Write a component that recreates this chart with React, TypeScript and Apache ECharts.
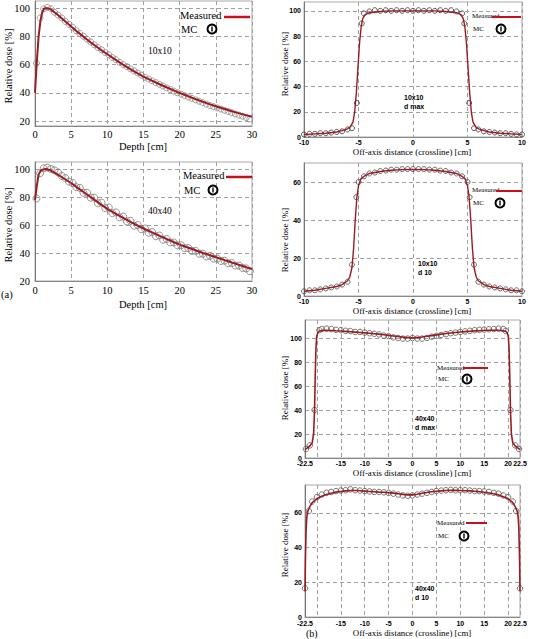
import React, { useEffect, useRef } from 'react';
import * as echarts from 'echarts';

// ---------- (a) depth dose, 10x10 ----------
const pdd10Depth = [0, 0.25, 0.5, 0.75, 1, 1.25, 1.5, 2, 2.5, 3, 4, 5, 6, 7, 8, 9, 10, 11, 12, 13, 14, 15, 16, 17, 18, 19, 20, 21, 22, 23, 24, 25, 26, 27, 28, 29, 30];
const pdd10Measured = [40, 62, 80, 91, 97, 99.5, 100, 99.5, 97.8, 95.8, 91.3, 87, 82.6, 78.5, 74.6, 70.8, 67.3, 63.8, 60.5, 57.3, 54.3, 51.5, 49, 46.6, 44.3, 42.1, 40, 37.9, 35.9, 34, 32.2, 30.5, 28.9, 27.3, 25.8, 24.4, 23];
const pddMcDepth = [0.2, 0.7, 1.2, 1.7, 2.2, 2.7, 3.2, 3.7, 4.2, 4.7, 5.2, 5.7, 6.2, 6.7, 7.2, 7.7, 8.2, 8.7, 9.2, 9.7, 10.2, 10.7, 11.2, 11.7, 12.2, 12.7, 13.2, 13.7, 14.2, 14.7, 15.2, 15.7, 16.2, 16.7, 17.2, 17.7, 18.2, 18.7, 19.2, 19.7, 20.2, 20.7, 21.2, 21.7, 22.2, 22.7, 23.2, 23.7, 24.2, 24.7, 25.2, 25.7, 26.2, 26.7, 27.2, 27.7, 28.2, 28.7, 29.2, 29.7];
const pdd10Mc = [61, 93, 99.5, 100.5, 99.5, 97, 95, 93, 90.5, 88.5, 86.5, 84, 82, 80, 78, 76, 74, 72, 70.5, 68.5, 67, 65, 63.5, 61.5, 60, 58.5, 57, 55.5, 54, 52.5, 51, 49.8, 48.5, 47.2, 46, 44.8, 43.5, 42.3, 41.2, 40, 39, 38, 37, 36, 35, 34, 33, 32, 31, 30.2, 29.3, 28.5, 27.6, 26.8, 25.9, 25, 24.2, 23.4, 22.5, 21.5];

// ---------- (a) depth dose, 40x40 ----------
const pdd40Depth = [0, 0.25, 0.5, 0.75, 1, 1.5, 2, 3, 4, 5, 6, 7, 8, 9, 10, 11, 12, 13, 14, 15, 16, 17, 18, 19, 20, 21, 22, 23, 24, 25, 26, 27, 28, 29, 30];
const pdd40Measured = [78, 88, 96, 98.5, 99.5, 100, 99.3, 96.5, 93.2, 90, 86.2, 82.5, 78.8, 75.1, 71.5, 68.5, 65.6, 62.8, 60.1, 57.5, 55.1, 52.8, 50.5, 48.2, 46, 44.1, 42.3, 40.4, 38.7, 37, 35.3, 33.6, 31.9, 30.2, 28.5];
const pdd40Mc = [79, 97, 100.5, 101, 100, 99, 97.5, 95, 93.5, 91, 90, 87, 86.5, 83, 83, 79.5, 79.5, 75.5, 76, 72, 72.5, 68.5, 69, 65.5, 66, 62.5, 63, 59.5, 60, 57, 57.5, 54.5, 55, 52, 52.5, 49.5, 50, 47.5, 47.5, 45.5, 45.5, 43.5, 43.5, 41.5, 41.5, 39.5, 39.5, 37.5, 38, 36, 36, 34.3, 34.5, 32.7, 32.8, 31, 31, 29.3, 29, 27];

// ---------- (b) profile 10x10, d max ----------
const prof10dmaxX = [-10, -9, -8, -7, -6.5, -6, -5.75, -5.5, -5.35, -5.2, -5.05, -4.9, -4.75, -4.6, -4.4, -4, -3, -2, -1, 0, 1, 2, 3, 4, 4.4, 4.6, 4.75, 4.9, 5.05, 5.2, 5.35, 5.5, 5.75, 6, 6.5, 7, 8, 9, 10];
const prof10dmaxMeasured = [2, 2.5, 3, 4, 5, 6.5, 8, 12, 20, 35, 55, 75, 88, 94, 97, 98.5, 99.5, 100, 100, 100, 100, 100, 99.5, 98.5, 97, 94, 88, 75, 55, 35, 20, 12, 8, 6.5, 5, 4, 3, 2.5, 2];
const prof10dmaxMcX = [-10, -9.5, -9, -8.5, -8, -7.5, -7, -6.5, -6, -5.6, -5.15, -4.7, -4.5, -4, -3.5, -3, -2.5, -2, -1.5, -1, -0.5, 0, 0.5, 1, 1.5, 2, 2.5, 3, 3.5, 4, 4.5, 4.7, 5.15, 5.6, 6, 6.5, 7, 7.5, 8, 8.5, 9, 9.5, 10];
const prof10dmaxMc = [2, 2.5, 2.5, 3, 3, 3.5, 4, 4.5, 6, 7, 27, 90, 98, 99.5, 100.5, 100, 100.5, 100, 100.5, 100, 100.5, 100, 100.5, 100, 100.5, 100, 100.5, 100, 100.5, 99.5, 98, 90, 27, 7, 6, 4.5, 4, 3.5, 3, 3, 2.5, 2, 2];

// ---------- (b) profile 10x10, d 10 ----------
const prof10d10X = [-10, -9, -8, -7, -6.5, -6, -5.8, -5.6, -5.45, -5.3, -5.15, -5, -4.8, -4.5, -4, -3, -2, -1, 0, 1, 2, 3, 4, 4.5, 4.8, 5, 5.15, 5.3, 5.45, 5.6, 5.8, 6, 6.5, 7, 8, 9, 10];
const prof10d10Measured = [2.5, 3, 4, 5, 6, 8, 10, 15, 25, 40, 52, 58, 61.5, 63, 64.5, 65.5, 66.2, 66.5, 66.6, 66.5, 66.2, 65.5, 64.5, 63, 61.5, 58, 52, 40, 25, 15, 10, 8, 6, 5, 4, 3, 2.5];
const prof10d10McX = [-10, -9.5, -9, -8.5, -8, -7.5, -7, -6.5, -6, -5.6, -5.2, -5, -4.5, -4, -3.5, -3, -2.5, -2, -1.5, -1, -0.5, 0, 0.5, 1, 1.5, 2, 2.5, 3, 3.5, 4, 4.5, 5, 5.2, 5.6, 6, 6.5, 7, 7.5, 8, 8.5, 9, 9.5, 10];
const prof10d10Mc = [2.5, 3, 3, 3.5, 4, 4.5, 5, 6, 7.5, 16.5, 52, 60, 63, 64.5, 65, 65.8, 66, 66.5, 66.5, 66.8, 66.8, 66.8, 66.8, 66.8, 66.5, 66.5, 66, 65.8, 65, 64.5, 63, 60, 52, 16.5, 7.5, 6, 5, 4.5, 4, 3.5, 3, 3, 2.5];

// ---------- (b) profile 40x40, d max ----------
const prof40dmaxX = [-22.5, -22, -21.5, -21, -20.7, -20.5, -20.35, -20.2, -20.05, -19.8, -19.5, -19, -18, -17, -16, -15, -14, -13, -12, -11, -10, -9, -8, -7, -6, -5, -4, -3, -2, -1, 0, 1, 2, 3, 4, 5, 6, 7, 8, 9, 10, 11, 12, 13, 14, 15, 16, 17, 18, 19, 19.5, 19.8, 20.05, 20.2, 20.35, 20.5, 20.7, 21, 21.5, 22, 22.5];
const prof40dmaxMeasured = [7, 8.5, 10, 12.5, 20, 40, 70, 92, 101.5, 104.5, 105.8, 106.3, 106.5, 106.3, 106, 105.8, 105.5, 105.2, 104.9, 104.6, 104.3, 104, 103.6, 103.2, 102.7, 102.2, 101.7, 101.2, 100.7, 100.3, 100.1, 100.3, 100.8, 101.4, 102, 102.6, 103.2, 103.7, 104.2, 104.6, 105, 105.3, 105.6, 105.9, 106.1, 106.3, 106.4, 106.5, 106.4, 106.1, 105.6, 104.5, 101.5, 92, 70, 40, 20, 12.5, 10, 8.5, 7];
const prof40dmaxMcX = [-22.3, -21.5, -20.5, -19.5, -19, -18, -17, -16, -15, -14, -13, -12, -11, -10, -9, -8, -7, -6, -5, -4, -3, -2, -1, 0, 1, 2, 3, 4, 5, 6, 7, 8, 9, 10, 11, 12, 13, 14, 15, 16, 17, 18, 19, 19.5, 20.5, 21.5, 22.3];
const prof40dmaxMc = [7.5, 10.5, 40, 106.5, 107.5, 107.8, 107.5, 106.8, 106.5, 106, 105.8, 105, 105, 104.5, 104, 103.5, 103, 102, 101.5, 100.5, 100, 99.5, 99.5, 100, 99.5, 99.5, 100, 101, 101.8, 102.5, 103.2, 104, 104.5, 105, 105.5, 106, 106.5, 106.8, 107, 107.3, 107.5, 107.8, 107.5, 106, 40, 10.5, 7.5];

// ---------- (b) profile 40x40, d 10 ----------
const prof40d10X = [-22.5, -22.4, -22.25, -22.1, -21.9, -21.5, -21, -20.5, -20, -19, -18, -17, -16, -15, -14, -13, -12, -11, -10, -9, -8, -7, -6, -5, -4, -3, -2, -1, 0, 1, 2, 3, 4, 5, 6, 7, 8, 9, 10, 11, 12, 13, 14, 15, 16, 17, 18, 19, 20, 20.5, 21, 21.5, 21.9, 22.1, 22.25, 22.4, 22.5];
const prof40d10Measured = [15, 35, 52, 58, 61, 63.5, 65.8, 67, 68.2, 69.5, 70.5, 71.3, 71.9, 72.3, 72.6, 72.8, 72.8, 72.7, 72.5, 72.3, 72.1, 71.9, 71.8, 71.6, 71.3, 71, 70.6, 70.3, 70.3, 70.7, 71.2, 71.7, 72.1, 72.4, 72.6, 72.8, 72.9, 72.9, 72.8, 72.7, 72.6, 72.4, 72.1, 71.8, 71.4, 71, 70.3, 69.3, 68.2, 67, 65.8, 63.5, 61, 58, 52, 35, 15];
const prof40d10McX = [-22.5, -21.7, -21, -20, -19, -18, -17, -16, -15, -14, -13, -12, -11, -10, -9, -8, -7, -6, -5, -4, -3, -2, -1, 0, 1, 2, 3, 4, 5, 6, 7, 8, 9, 10, 11, 12, 13, 14, 15, 16, 17, 18, 19, 20, 21, 21.7, 22.5];
const prof40d10Mc = [16.5, 61, 66.5, 69, 70.5, 71.5, 72, 72.5, 72.8, 73, 73.5, 73, 72.8, 72.5, 72.3, 72, 72, 71.8, 71.5, 71, 70.5, 70, 69.8, 70, 70.5, 71, 71.5, 72, 72.5, 72.8, 73, 73.2, 73, 73, 73, 72.8, 72.5, 72.5, 72.3, 72, 71.5, 71, 70, 69, 66.5, 61, 16.5];

// ---------- tick labels ----------
const depthTicks = [0, 5, 10, 15, 20, 25, 30];
const pddDoseTicks = [20, 40, 60, 80, 100];
const off10Ticks = [-10, -5, 0, 5, 10];
const off40Ticks = [-22.5, -20, -15, -10, -5, 0, 5, 10, 15, 20, 22.5];
const doseTicks100 = [0, 20, 40, 60, 80, 100];
const doseTicks60 = [0, 20, 40, 60];

const SERIF = '"Liberation Serif", "Times New Roman", serif';
const SANS = '"Liberation Sans", Arial, sans-serif';
const LINE_RED = '#9a1c22';
const LEG_RED = '#c8101c';

const zip = (xs: number[], ys: number[]) => xs.map((x, i) => [x, ys[i]]);

type PanelCfg = {
  grid: { left: number; top: number; width: number; height: number };
  xMin: number; xMax: number; xTicks: number[];
  yMin: number; yMax: number; yTicks: number[];
  serif: boolean;
  mx: number[]; my: number[]; cx: number[]; cy: number[];
  symSize: number; symColor: string; lineWidth: number;
  xMargin: number; yMargin: number;
};

const panels: PanelCfg[] = [
  { grid: { left: 35, top: 1, width: 217, height: 125 }, xMin: 0, xMax: 30, xTicks: depthTicks, yMin: 16.5, yMax: 105, yTicks: pddDoseTicks, serif: true,
    mx: pdd10Depth, my: pdd10Measured, cx: pddMcDepth, cy: pdd10Mc, symSize: 6, symColor: '#8a8a8a', lineWidth: 2, xMargin: 3, yMargin: 5 },
  { grid: { left: 35, top: 162, width: 217, height: 119 }, xMin: 0, xMax: 30, xTicks: depthTicks, yMin: 20, yMax: 105, yTicks: pddDoseTicks, serif: true,
    mx: pdd40Depth, my: pdd40Measured, cx: pddMcDepth, cy: pdd40Mc, symSize: 7, symColor: '#7a7a7a', lineWidth: 2, xMargin: 4, yMargin: 5 },
  { grid: { left: 304, top: 2, width: 218, height: 135 }, xMin: -10, xMax: 10, xTicks: off10Ticks, yMin: 0, yMax: 107, yTicks: doseTicks100, serif: false,
    mx: prof10dmaxX, my: prof10dmaxMeasured, cx: prof10dmaxMcX, cy: prof10dmaxMc, symSize: 5, symColor: '#333', lineWidth: 1.4, xMargin: 2, yMargin: 3 },
  { grid: { left: 304, top: 163, width: 218, height: 133 }, xMin: -10, xMax: 10, xTicks: off10Ticks, yMin: 0, yMax: 70, yTicks: doseTicks60, serif: false,
    mx: prof10d10X, my: prof10d10Measured, cx: prof10d10McX, cy: prof10d10Mc, symSize: 5, symColor: '#444', lineWidth: 1.4, xMargin: 2, yMargin: 3 },
  { grid: { left: 305, top: 320, width: 215, height: 138 }, xMin: -22.5, xMax: 22.5, xTicks: off40Ticks, yMin: 0, yMax: 115, yTicks: doseTicks100, serif: false,
    mx: prof40dmaxX, my: prof40dmaxMeasured, cx: prof40dmaxMcX, cy: prof40dmaxMc, symSize: 5.5, symColor: '#555', lineWidth: 1.6, xMargin: 2, yMargin: 3 },
  { grid: { left: 305, top: 485, width: 215, height: 132 }, xMin: -22.5, xMax: 22.5, xTicks: off40Ticks, yMin: 0, yMax: 76, yTicks: doseTicks60, serif: false,
    mx: prof40d10X, my: prof40d10Measured, cx: prof40d10McX, cy: prof40d10Mc, symSize: 5.5, symColor: '#555', lineWidth: 1.6, xMargin: 3, yMargin: 3 },
];

function label(p: PanelCfg, values: number[], margin: number) {
  return p.serif
    ? { customValues: values, margin, fontSize: 10.5, fontFamily: SERIF, color: '#000' }
    : { customValues: values, margin, fontSize: 7, fontFamily: SANS, fontWeight: 'bold', color: '#000' };
}

function txt(x: number, y: number, text: string, size: number, family: string, extra: any = {}) {
  return {
    type: 'text', x, y, z: 10,
    style: { text, fontSize: size, fontFamily: family, fill: '#000', align: 'left', verticalAlign: 'middle', textAlign: 'left', textVerticalAlign: 'middle', ...extra },
  };
}
function vtxt(x: number, y: number, text: string, size: number) {
  return {
    type: 'text', x, y, rotation: Math.PI / 2, z: 10,
    style: { text, fontSize: size, fontFamily: SERIF, fill: '#000', align: 'center', verticalAlign: 'middle', textAlign: 'center', textVerticalAlign: 'middle' },
  };
}
function ctxt(x: number, y: number, text: string, size: number) {
  return txt(x, y, text, size, SERIF, { align: 'center', textAlign: 'center' });
}
function legend(mx: number, my: number, lx1: number, lx2: number, ly: number, cyMc: number, ringX: number, size: number, lw: number, r: number) {
  return [
    txt(mx, my, 'Measured', size, SERIF),
    { type: 'line', z: 10, shape: { x1: lx1, y1: ly, x2: lx2, y2: ly }, style: { stroke: LEG_RED, lineWidth: lw } },
    txt(mx + 1, cyMc, 'MC', size, SERIF),
    { type: 'circle', z: 10, shape: { cx: ringX, cy: cyMc, r }, style: { fill: '#fff', stroke: '#000', lineWidth: 2 } },
    { type: 'line', z: 11, shape: { x1: ringX, y1: cyMc - r + 2, x2: ringX, y2: cyMc + r - 2 }, style: { stroke: '#000', lineWidth: 1.4 } },
  ];
}

export default function App() {
  const ref = useRef<HTMLDivElement>(null);
  useEffect(() => {
    const chart = echarts.init(ref.current!, null, { renderer: 'svg' });
    const grids = panels.map((p) => ({ ...p.grid, show: true, borderColor: '#a8a8a8', borderWidth: 1, containLabel: false }));
    const splitStyle = { show: true, lineStyle: { color: '#a0a0a0', width: 1, type: [4, 3] } };
    const xAxis = panels.map((p, i) => ({
      type: 'value', gridIndex: i, min: p.xMin, max: p.xMax,
      axisLine: { show: true, onZero: false, lineStyle: { color: '#888', width: 1 } },
      axisTick: { show: false, customValues: p.xTicks },
      axisLabel: { ...label(p, p.xTicks, p.xMargin), showMinLabel: true, showMaxLabel: true },
      splitLine: splitStyle,
    }));
    const yAxis = panels.map((p, i) => ({
      type: 'value', gridIndex: i, min: p.yMin, max: p.yMax,
      axisLine: { show: true, onZero: false, lineStyle: { color: '#777', width: 1 } },
      axisTick: { show: false, customValues: p.yTicks },
      axisLabel: { ...label(p, p.yTicks, p.yMargin), showMinLabel: true, showMaxLabel: true },
      splitLine: splitStyle,
    }));
    const series: any[] = [];
    panels.forEach((p, i) => {
      series.push({
        type: 'scatter', xAxisIndex: i, yAxisIndex: i, data: zip(p.cx, p.cy), symbol: 'circle', symbolSize: p.symSize,
        itemStyle: { color: 'rgba(255,255,255,0)', borderColor: p.symColor, borderWidth: 1 }, z: 2, silent: true,
      });
      series.push({
        type: 'line', xAxisIndex: i, yAxisIndex: i, data: zip(p.mx, p.my), showSymbol: false, symbol: 'none',
        lineStyle: { color: LINE_RED, width: p.lineWidth }, z: 3, silent: true,
      });
    });
    const graphic: any[] = [
      // (a) top
      vtxt(8, 66, 'Relative dose [%]', 10.5),
      ctxt(143, 146, 'Depth [cm]', 10.5),
      ...legend(180, 15, 224, 250, 17, 29, 212, 10.5, 2.5, 4.5),
      txt(148, 51, '10x10', 9.5, SERIF),
      // (a) bottom
      vtxt(8, 225, 'Relative dose [%]', 10.5),
      ctxt(143, 304, 'Depth [cm]', 10.5),
      ...legend(183, 175, 226, 252, 177, 190, 213, 10.5, 2.5, 4.5),
      txt(148, 211, '40x40', 9.5, SERIF),
      txt(1, 294, '(a)', 10.5, SERIF),
      // (b) 1
      vtxt(285, 64, 'Relative dose [%]', 9),
      ctxt(412, 152, 'Off-axis distance (crossline) [cm]', 8.8),
      ...legend(472, 16, 492, 521, 17, 29, 501, 7, 2, 4.5),
      txt(404, 97, '10x10', 7, SANS, { fontWeight: 'bold' }),
      txt(404, 106, 'd max', 7, SANS, { fontWeight: 'bold' }),
      // (b) 2
      vtxt(285, 240, 'Relative dose [%]', 9),
      ctxt(412, 311, 'Off-axis distance (crossline) [cm]', 8.8),
      ...legend(472, 190, 496, 522, 191, 203, 500, 7, 2, 4.5),
      txt(418, 263, '10x10', 7, SANS, { fontWeight: 'bold' }),
      txt(418, 272, 'd 10', 7, SANS, { fontWeight: 'bold' }),
      // (b) 3
      vtxt(285, 388, 'Relative dose [%]', 9),
      ctxt(412, 473, 'Off-axis distance (crossline) [cm]', 8.8),
      ...legend(437, 368, 463, 488, 368, 379, 467, 7, 2, 4.5),
      txt(415, 418, '40x40', 7, SANS, { fontWeight: 'bold' }),
      txt(415, 427, 'd max', 7, SANS, { fontWeight: 'bold' }),
      // (b) 4
      vtxt(285, 545, 'Relative dose [%]', 9),
      ctxt(412, 633, 'Off-axis distance (crossline) [cm]', 8.8),
      ...legend(437, 523, 466, 487, 523, 536, 464, 7, 2, 4.5),
      txt(415, 588, '40x40', 7, SANS, { fontWeight: 'bold' }),
      txt(415, 597, 'd 10', 7, SANS, { fontWeight: 'bold' }),
      txt(306, 633, '(b)', 10, SERIF),
    ];
    chart.setOption({
      animation: false,
      backgroundColor: '#fff',
      grid: grids,
      xAxis,
      yAxis,
      series,
      graphic,
    });
    return () => chart.dispose();
  }, []);
  return <div ref={ref} style={{ position: 'fixed', left: 0, top: 0, width: 533, height: 639, background: '#fff' }} />;
}
